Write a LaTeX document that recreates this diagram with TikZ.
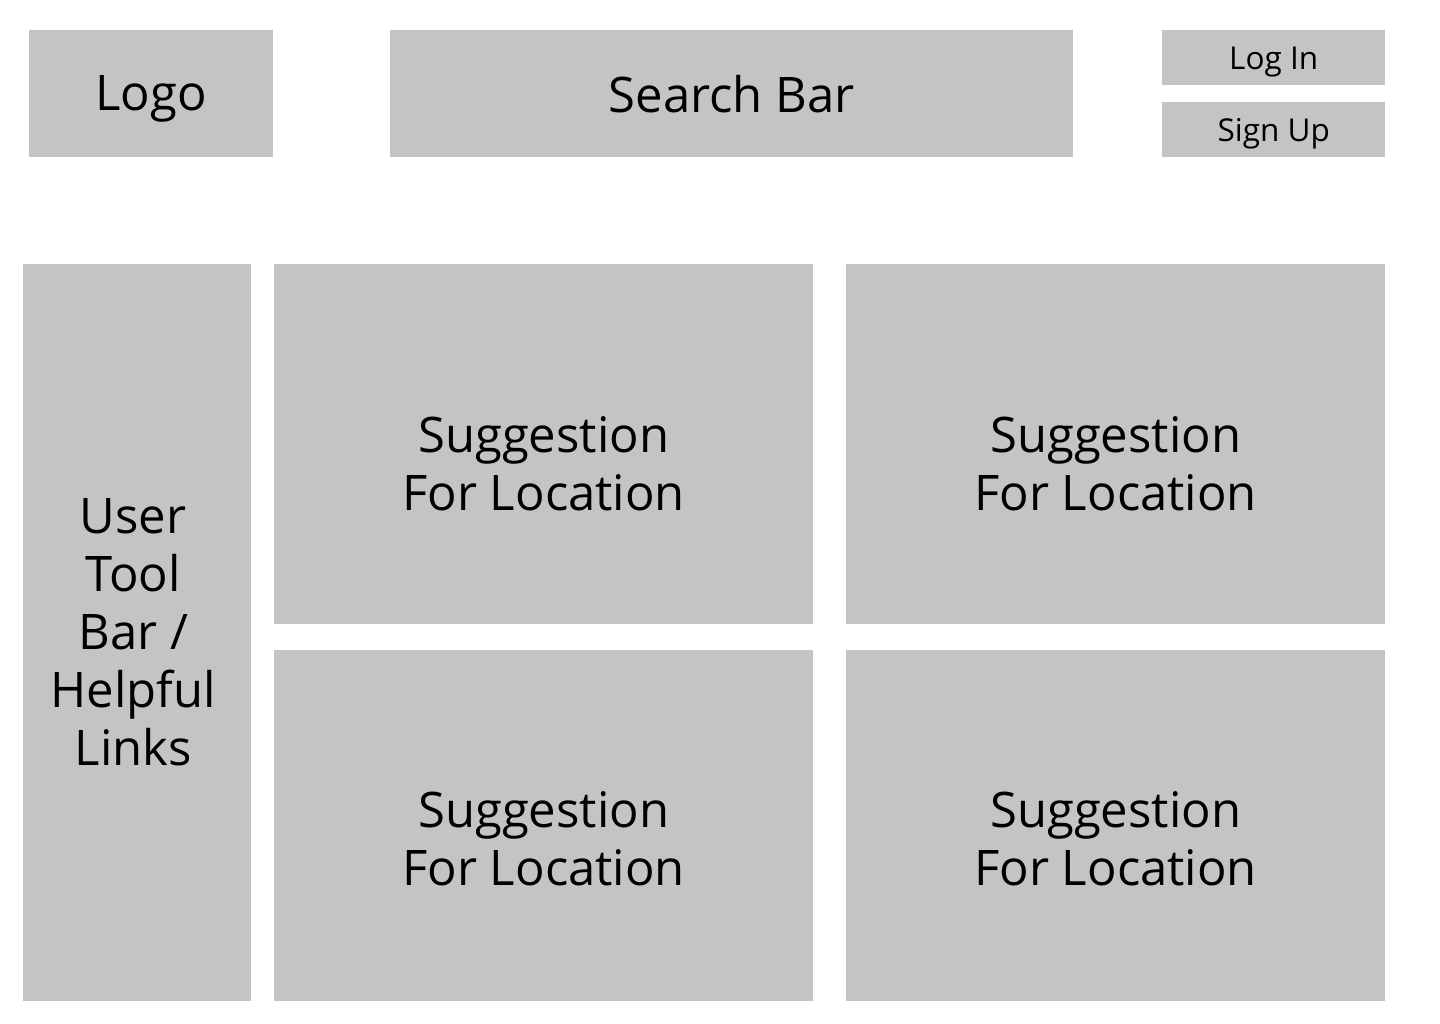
\documentclass[tikz,border=0pt]{standalone}
\usepackage{fontspec}
\setmainfont{Open Sans}
\definecolor{boxgray}{HTML}{C4C4C4}
\begin{document}
\begin{tikzpicture}[x=1pt,y=-1pt,
  box/.style={fill=boxgray,draw=none,anchor=north west,inner sep=0pt},
  lbl/.style={inner sep=0pt,align=center,text=black},
  big/.style={font=\fontsize{49}{58}\selectfont},
  small/.style={font=\fontsize{31.5}{36}\selectfont}]
\useasboundingbox[fill=white] (0,0) rectangle (1440,1024);
\node[box,minimum width=244pt,minimum height=127pt] (logo) at (29,30) {};
\node[box,minimum width=683pt,minimum height=127pt] (search) at (390,30) {};
\node[box,minimum width=223pt,minimum height=55pt] (login) at (1162,30) {};
\node[box,minimum width=223pt,minimum height=55pt] (signup) at (1162,102) {};
\node[box,minimum width=228pt,minimum height=737pt] (tool) at (23,264) {};
\node[box,minimum width=539pt,minimum height=360pt] (s1) at (274,264) {};
\node[box,minimum width=539pt,minimum height=360pt] (s2) at (846,264) {};
\node[box,minimum width=539pt,minimum height=351pt] (s3) at (274,650) {};
\node[box,minimum width=539pt,minimum height=351pt] (s4) at (846,650) {};
\node[lbl,big] (logot) at ([yshift=-5pt]logo.center) {Logo};
\node[lbl,big] (searcht) at (search.center) {Search Bar};
\node[lbl,small] (logint) at ([yshift=-4pt]login.center) {Log In};
\node[lbl,small] (signupt) at ([yshift=-4pt]signup.center) {Sign Up};
\node[lbl,big] (toolt) at ([xshift=-4pt]tool.center) {User\\Tool\\Bar /\\Helpful\\Links};
\node[lbl,big] (s1t) at ([yshift=-20pt]s1.center) {Suggestion\\For Location};
\node[lbl,big] (s2t) at ([yshift=-20pt]s2.center) {Suggestion\\For Location};
\node[lbl,big] (s3t) at ([yshift=-13pt]s3.center) {Suggestion\\For Location};
\node[lbl,big] (s4t) at ([yshift=-13pt]s4.center) {Suggestion\\For Location};
\end{tikzpicture}
\end{document}
